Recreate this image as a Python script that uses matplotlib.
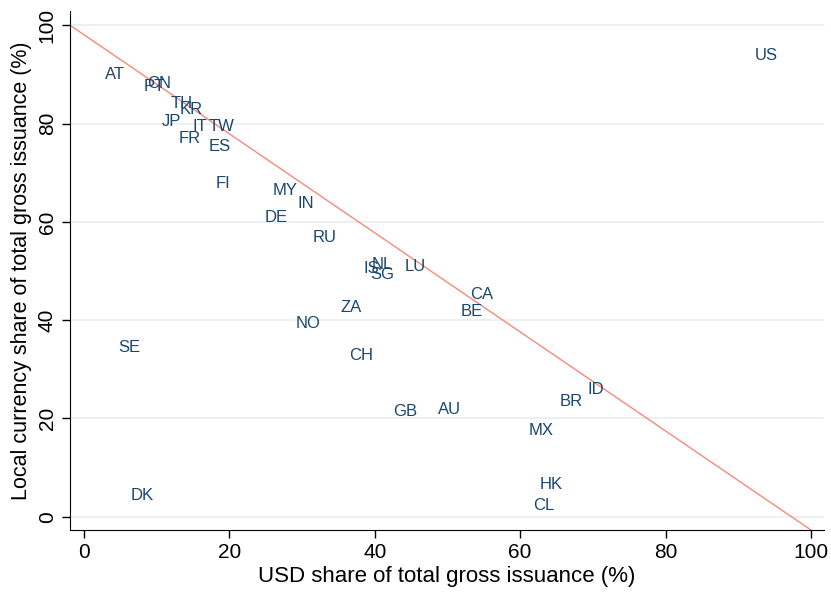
import matplotlib

matplotlib.use("Agg")
import matplotlib.pyplot as plt

# country codes with USD share (x) and local currency share (y) of gross issuance, %
countries = ["US", "AT", "CN", "PT", "TH", "KR", "JP", "IT", "TW", "FR", "ES",
             "FI", "MY", "IN", "DE", "RU", "NL", "IS", "SG", "LU", "CA", "BE",
             "ZA", "NO", "SE", "CH", "ID", "BR", "GB", "AU", "MX", "HK", "DK", "CL"]
usd_share = [93.9, 4.3, 10.3, 9.7, 13.5, 14.8, 12.1, 16.0, 18.9, 14.5, 18.6,
             19.1, 27.6, 30.5, 26.5, 33.1, 41.0, 39.5, 41.1, 45.5, 54.7, 53.3,
             36.7, 30.8, 6.2, 38.1, 70.4, 67.0, 44.2, 50.3, 62.9, 64.2, 8.0, 63.2]
local_share = [93.9, 90.0, 88.1, 87.5, 84.0, 82.8, 80.4, 79.4, 79.4, 77.0, 75.3,
               67.8, 66.4, 63.7, 60.8, 56.8, 51.3, 50.6, 49.3, 50.9, 45.3, 41.8,
               42.6, 39.4, 34.5, 32.8, 25.9, 23.4, 21.4, 21.9, 17.5, 6.5, 4.4, 2.2]

x_lo, x_hi = -1.93, 101.8
y_lo, y_hi = -2.7, 102.9

plt.rcParams["font.family"] = ["Liberation Sans", "DejaVu Sans"]

fig = plt.figure(figsize=(8.31, 5.93), dpi=100)
ax = fig.add_axes([0.0842, 0.1062, 0.9074, 0.8753])

for code, xv, yv in zip(countries, usd_share, local_share):
    ax.text(xv, yv, code, ha="center", va="center", fontsize=12, color="#1a476f")

# 45-degree reference line across the plot region
ax.plot([x_lo, 100], [100, y_lo], color="#f68a7c", lw=1.0)

ax.set_xlim(x_lo, x_hi)
ax.set_ylim(y_lo, y_hi)
ax.set_xticks([0, 20, 40, 60, 80, 100])
ax.set_yticks([0, 20, 40, 60, 80, 100])
ax.yaxis.grid(True, color="#e6eef1", lw=1.2)
ax.set_axisbelow(True)
ax.spines["top"].set_visible(False)
ax.spines["right"].set_visible(False)
ax.tick_params(direction="out", length=6, width=1, labelsize=15, colors="black")
for lab in ax.get_yticklabels():
    lab.set_rotation(90)
    lab.set_va("center")
ax.set_xlabel("USD share of total gross issuance (%)", fontsize=16, labelpad=3)
ax.set_ylabel("Local currency share of total gross issuance (%)", fontsize=15.5, labelpad=4)

fig.savefig("out.png", dpi=100)
